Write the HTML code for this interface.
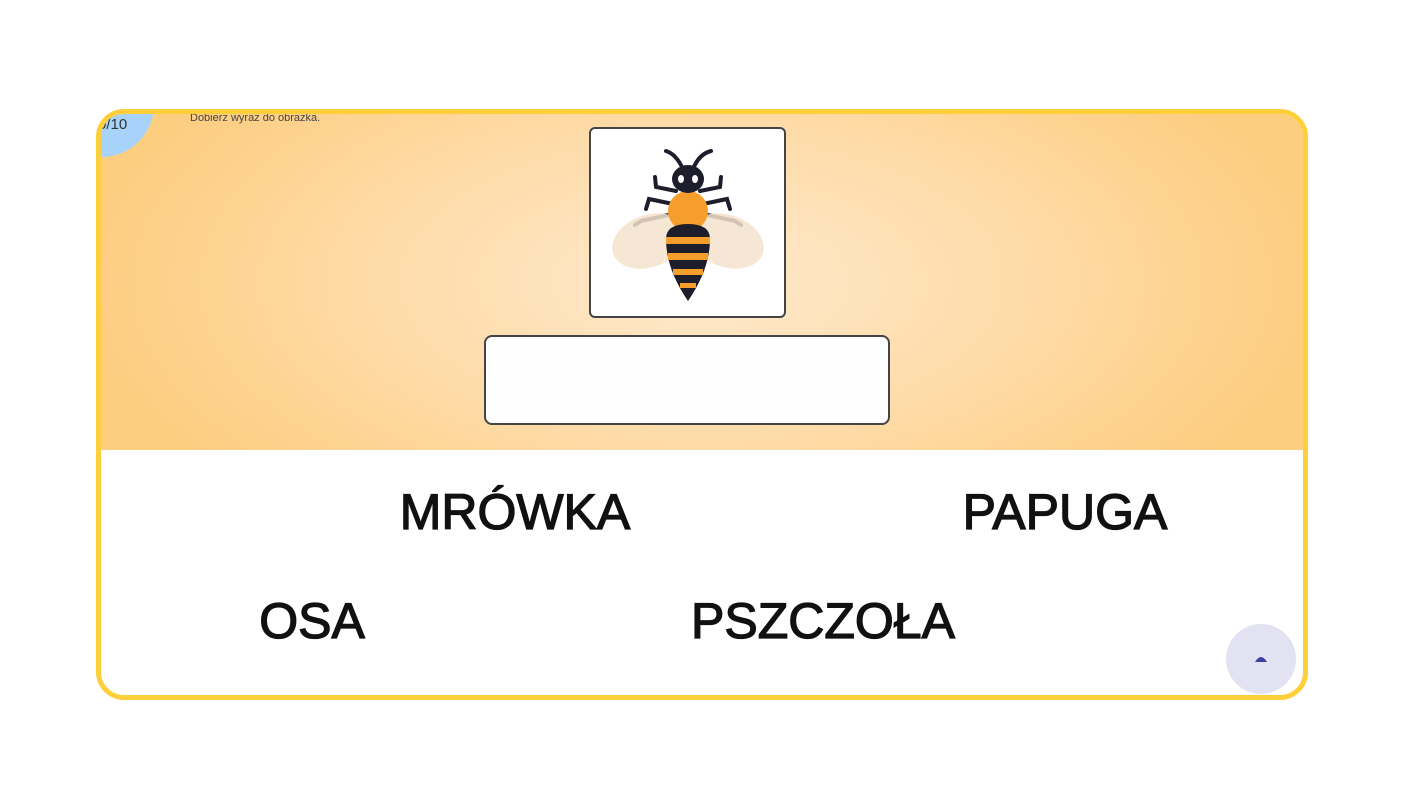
<!DOCTYPE html>
<html><head><meta charset="utf-8"><style>
html,body{margin:0;padding:0;background:#fff;width:1405px;height:810px;overflow:hidden;font-family:"Liberation Sans",sans-serif}
.card{position:absolute;left:96px;top:109px;width:1202px;height:581px;border:5px solid #fdd03b;border-radius:28px;overflow:hidden;background:#fff}
.top{position:absolute;left:0;top:0;width:100%;height:336px;background:radial-gradient(ellipse 620px 300px at 50% 50%,#fee9cd 0%,#fedcaa 50%,#fdcd80 100%)}
.badge{position:absolute;left:-52px;top:-62px;width:105px;height:105px;border-radius:50%;background:#a7d3fb}
.cnt{position:absolute;left:-3px;top:2px;font-size:15px;color:#333}
.instr{position:absolute;left:89px;top:-2px;font-size:11px;color:#444}
.img{position:absolute;left:488px;top:13px;width:193px;height:187px;border:2px solid #444;border-radius:6px;background:#fff}
.ans{position:absolute;left:383px;top:221px;width:402px;height:86px;border:2px solid #444;border-radius:8px;background:#fefefe}
.w{position:absolute;font-size:50px;line-height:50px;color:#111;-webkit-text-stroke:1.3px #111;white-space:nowrap;text-align:center;width:400px}
.fab{position:absolute;left:1125px;top:510px;width:70px;height:70px;border-radius:50%;background:#e2e2f3}
</style></head><body>
<div class="card">
 <div class="top">
  <div class="badge"></div>
  <div class="cnt">0/10</div>
  <div class="instr">Dobierz wyraz do obrazka.</div>
  <div class="img">
   <svg width="193" height="187" viewBox="0 0 193 187">
    <g fill="none" stroke="#1d1d2b" stroke-width="4" stroke-linecap="round">
     <path d="M92 40 Q85 25 75 22"/><path d="M102 40 Q108 25 120 22"/>
     <path d="M85 62 L65 58 L64 48"/><path d="M109 62 L129 58 L130 48"/>
     <path d="M82 75 L58 70 L55 80"/><path d="M112 75 L136 70 L139 80"/>
     <path d="M82 85 L50 92 L44 96"/><path d="M112 85 L144 92 L150 96"/>
    </g>
    <ellipse cx="58" cy="112" rx="38" ry="26" fill="#f4e2cc" opacity="0.85" transform="rotate(-20 58 112)"/>
    <ellipse cx="136" cy="112" rx="38" ry="26" fill="#f4e2cc" opacity="0.85" transform="rotate(20 136 112)"/>
    <ellipse cx="97" cy="82" rx="20" ry="20" fill="#f59e2b"/>
    <path d="M75 110 Q75 95 97 95 Q119 95 119 110 Q119 140 97 172 Q75 140 75 110Z" fill="#1d1d2b"/>
    <g fill="#f59e2b"><rect x="75" y="108" width="44" height="7"/><rect x="77" y="124" width="40" height="7"/><rect x="82" y="140" width="30" height="6"/><rect x="89" y="154" width="16" height="5"/></g>
    <ellipse cx="97" cy="50" rx="16" ry="14" fill="#1d1d2b"/>
    <ellipse cx="90" cy="50" rx="3" ry="4" fill="#fff"/><ellipse cx="104" cy="50" rx="3" ry="4" fill="#fff"/>
   </svg>
  </div>
  <div class="ans"></div>
 </div>
 <div class="w" style="left:214px;top:373px">MRÓWKA</div>
 <div class="w" style="left:764px;top:373px">PAPUGA</div>
 <div class="w" style="left:11px;top:482px">OSA</div>
 <div class="w" style="left:522px;top:482px">PSZCZOŁA</div>
 <div class="fab"><svg width="70" height="70"><path d="M29 38 Q35 28 41 38Z" fill="#3f3fa0"/></svg></div>
</div>
</body></html>
